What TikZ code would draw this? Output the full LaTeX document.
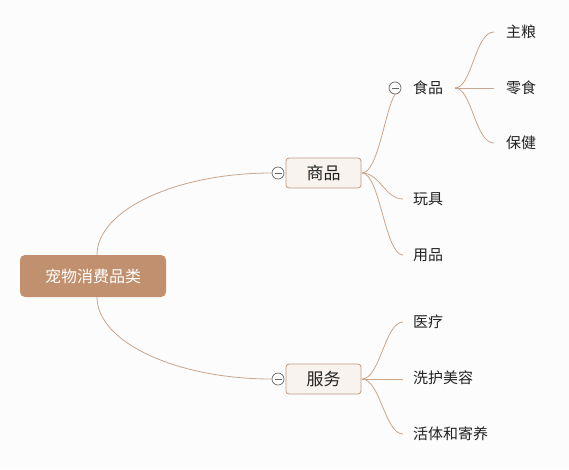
\documentclass[tikz,border=0pt]{standalone}
\usepackage{fontspec}
\setmainfont{Noto Sans CJK SC}
\definecolor{rootfill}{HTML}{C0906F}
\definecolor{linec}{HTML}{C9A58C}
\definecolor{boxfill}{HTML}{F8F3EF}
\definecolor{boxline}{HTML}{C29A7E}
\definecolor{bg}{HTML}{FCFCFC}
\definecolor{txt}{HTML}{222222}
\tikzset{
  rootbox/.style={rectangle, rounded corners=5pt, fill=rootfill, text=white, minimum width=146pt, minimum height=42pt, inner sep=0pt, font=\fontsize{16pt}{19pt}\selectfont},
  midbox/.style={rectangle, rounded corners=3pt, fill=boxfill, draw=boxline, line width=0.8pt, minimum width=75pt, minimum height=30pt, inner sep=0pt, text=txt, font=\fontsize{17pt}{20pt}\selectfont},
  leaf/.style={anchor=west, inner sep=0pt, text=txt, font=\fontsize{15pt}{17pt}\selectfont},
  conn/.style={draw=linec, line width=0.8pt},
  fold/.style={circle, draw=gray!80!black, fill=white, line width=0.7pt, minimum size=12pt, inner sep=0pt,
    path picture={\draw[gray!80!black, line width=0.7pt] ([xshift=-3.5pt]path picture bounding box.center) -- ([xshift=3.5pt]path picture bounding box.center);}}
}
\begin{document}
\begin{tikzpicture}[x=1pt,y=-1pt]
\fill[bg] (0,0) rectangle (569,469);
\useasboundingbox (0,0) rectangle (569,469);

\node[rootbox] (root) at (93,276) {宠物消费品类};
\node[midbox] (goods) at (323.5,173) {商品};
\node[midbox] (serv) at (323.5,379) {服务};
\node[fold] (fg) at (278,173) {};
\node[fold] (fs) at (278,379) {};

\coordinate (rt) at (97,255);
\coordinate (rb) at (97,297);
\draw[conn] (rt) .. controls (97,210) and (176,173) .. (fg.west);
\draw[conn] (rb) .. controls (97,342) and (176,379) .. (fs.west);

% goods children
\node[fold] (ff) at (395,88) {};
\node[leaf] (food) at (413,88) {食品};
\node[leaf] (toy) at (413,199) {玩具};
\node[leaf] (supp) at (413,255) {用品};
\coordinate (go) at (362,173);
\coordinate (toyE) at (403,199);
\coordinate (suppE) at (403,255);
\draw[conn] (go) .. controls (378,173) and (385,110) .. (ff.south);
\draw[conn] (go) .. controls (380,173) and (385,199) .. (toyE);
\draw[conn] (go) .. controls (380,173) and (385,255) .. (suppE);

% food children
\node[leaf] (staple) at (506,32) {主粮};
\node[leaf] (snack) at (506,88) {零食};
\node[leaf] (health) at (506,143) {保健};
\coordinate (fo) at (455,88);
\coordinate (stE) at (494,32);
\coordinate (snE) at (494,88);
\coordinate (heE) at (494,143);
\draw[conn] (fo) .. controls (472,88) and (475,32) .. (stE);
\draw[conn] (fo) -- (snE);
\draw[conn] (fo) .. controls (472,88) and (475,143) .. (heE);

% service children
\node[leaf] (med) at (413,322) {医疗};
\node[leaf] (care) at (413,378) {洗护美容};
\node[leaf] (live) at (413,434) {活体和寄养};
\coordinate (so) at (362,379);
\coordinate (meE) at (403,322);
\coordinate (caE) at (403,379);
\coordinate (liE) at (403,434);
\draw[conn] (so) .. controls (380,379) and (385,322) .. (meE);
\draw[conn] (so) -- (caE);
\draw[conn] (so) .. controls (380,379) and (385,434) .. (liE);
\end{tikzpicture}
\end{document}
